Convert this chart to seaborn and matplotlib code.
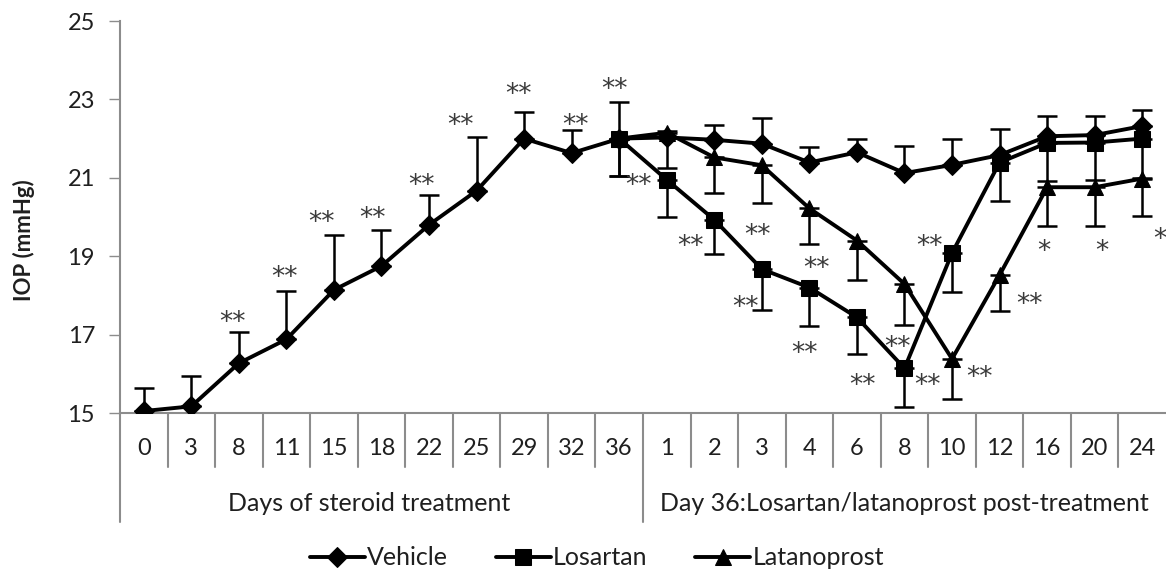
import matplotlib
matplotlib.use('Agg')
import matplotlib.pyplot as plt
import matplotlib.transforms as mtransforms
import numpy as np
import pandas as pd
import seaborn as sns

# x categories (days)
day_labels = ['0', '3', '8', '11', '15', '18', '22', '25', '29', '32', '36',
              '1', '2', '3', '4', '6', '8', '10', '12', '16', '20', '24']

# mean IOP per group
vehicle = [15.05, 15.17, 16.27, 16.88, 18.14, 18.75, 19.80, 20.67, 22.00, 21.63, 22.00,
           22.03, 21.97, 21.87, 21.39, 21.65, 21.12, 21.33, 21.58, 22.06, 22.09, 22.32]
losartan = [22.00, 20.95, 19.93, 18.67, 18.20, 17.44, 16.14, 19.08, 21.39, 21.89, 21.90, 22.00]
latanoprost = [22.00, 22.15, 21.52, 21.32, 20.22, 19.40, 18.29, 16.38, 18.52, 20.76, 20.76, 20.98]

# error bars: vehicle drawn upward, treatment groups drawn downward
vehicle_err = [0.59, 0.78, 0.79, 1.24, 1.41, 0.92, 0.77, 1.36, 0.69, 0.59, 0.93,
               0.17, 0.38, 0.65, 0.39, 0.34, 0.70, 0.67, 0.66, 0.52, 0.48, 0.41]
losartan_err = [0.95, 0.95, 0.87, 1.04, 0.99, 0.94, 0.99, 0.99, 0.98, 0.97, 0.96, 1.00]
latanoprost_err = [0.95, 0.90, 0.91, 0.96, 0.91, 1.00, 1.04, 1.02, 0.92, 0.99, 0.99, 0.95]

group_labels = ['Days of steroid treatment', 'Day 36:Losartan/latanoprost post-treatment']

# significance marks (category position, IOP level, text)
sig_marks = [(1.87, 17.5, '**'), (2.96, 18.65, '**'), (3.73, 20.05, '**'), (4.82, 20.15, '**'),
             (5.85, 21.0, '**'), (6.67, 22.53, '**'), (7.89, 23.32, '**'), (9.08, 22.53, '**'),
             (9.9, 23.44, '**'), (10.4, 21.0, '**'), (11.5, 19.44, '**'), (12.9, 19.72, '**'),
             (12.65, 17.9, '**'), (14.14, 18.88, '**'), (13.89, 16.71, '**'), (15.12, 15.89, '**'),
             (15.86, 16.86, '**'), (16.49, 15.89, '**'), (16.53, 19.44, '**'), (17.58, 16.1, '**'),
             (18.63, 17.98, '**'), (18.92, 19.31, '*'), (20.16, 19.31, '*'), (21.38, 19.62, '*')]

start = day_labels.index('36')
pos_all = np.arange(len(day_labels))
pos_post = pos_all[start:]

df = pd.concat([
    pd.DataFrame({'pos': pos_all, 'IOP': vehicle, 'group': 'Vehicle'}),
    pd.DataFrame({'pos': pos_post, 'IOP': losartan, 'group': 'Losartan'}),
    pd.DataFrame({'pos': pos_post, 'IOP': latanoprost, 'group': 'Latanoprost'}),
], ignore_index=True)

sns.set_style('white')
plt.rcParams['font.family'] = ['Lato', 'DejaVu Sans']

grey = '#8c8c8c'
txt = '#1f1f1f'

fig = plt.figure(figsize=(11.66, 5.71), dpi=100)
ax = fig.add_axes([0.1029, 0.2767, 0.8971, 0.6865])

ax.errorbar(pos_all, vehicle, yerr=[np.zeros(len(vehicle)), vehicle_err], fmt='none',
            ecolor='black', elinewidth=1.8, capsize=7, capthick=1.8, zorder=1)
ax.errorbar(pos_post, losartan, yerr=[losartan_err, np.zeros(len(losartan))], fmt='none',
            ecolor='black', elinewidth=1.8, capsize=7, capthick=1.8, zorder=1)
ax.errorbar(pos_post, latanoprost, yerr=[latanoprost_err, np.zeros(len(latanoprost))], fmt='none',
            ecolor='black', elinewidth=1.8, capsize=7, capthick=1.8, zorder=1)

sizes = {'Vehicle': 10, 'Losartan': 11.5, 'Latanoprost': 11.5}
marks = {'Vehicle': 'D', 'Losartan': 's', 'Latanoprost': '^'}
for name in ['Vehicle', 'Losartan', 'Latanoprost']:
    sub = df[df['group'] == name]
    sns.lineplot(data=sub, x='pos', y='IOP', ax=ax, color='black', linewidth=2.8,
                 marker=marks[name], markersize=sizes[name], markeredgecolor='black',
                 label=name, zorder=3)

# DejaVu asterisks sit high in the line box, shift them down a little
star_trans = mtransforms.offset_copy(ax.transData, fig=fig, y=-6, units='points')
for x, y, s in sig_marks:
    ax.text(x, y, s, ha='center', va='center', fontsize=19, color='#3a3a3a',
            family=['DejaVu Sans'], transform=star_trans)

ax.set_xlim(-0.5, len(day_labels) - 0.5)
ax.set_ylim(15, 25)
ax.set_yticks([15, 17, 19, 21, 23, 25])
ax.set_xticks(pos_all)
ax.set_xticklabels(day_labels)
ax.tick_params(axis='x', length=0, pad=18, labelsize=17, labelcolor=txt)
ax.tick_params(axis='y', length=8, width=1, color=grey, direction='out', pad=10,
               labelsize=17, labelcolor=txt, left=True)
ax.set_xlabel('')
ax.set_ylabel('IOP (mmHg)', fontsize=16, fontweight='bold', color=txt)
ax.yaxis.set_label_coords(-0.081, 0.441)

for side in ['top', 'right']:
    ax.spines[side].set_visible(False)
for side in ['left', 'bottom']:
    ax.spines[side].set_color(grey)
    ax.spines[side].set_linewidth(1.5)

# category separators below the axis
trans = mtransforms.blended_transform_factory(ax.transData, ax.transAxes)
for b in np.arange(0.5, len(day_labels) - 0.5, 1.0):
    depth = -0.278 if b == start + 0.5 else -0.138
    ax.plot([b, b], [0, depth], transform=trans, color=grey, lw=1.5, clip_on=False)
ax.plot([-0.5, -0.5], [0, -0.278], transform=trans, color=grey, lw=1.5, clip_on=False)

ax.text((start - 0.5) / 2, -0.232, group_labels[0], transform=trans,
        ha='center', va='center', fontsize=18, color=txt)
ax.text((start + 0.5 + len(day_labels) - 0.5) / 2, -0.232, group_labels[1], transform=trans,
        ha='center', va='center', fontsize=18, color=txt)

handles, labels = ax.get_legend_handles_labels()
ax.legend(handles, labels, loc='center', bbox_to_anchor=(0.512, 0.023),
          bbox_transform=fig.transFigure, ncol=3, frameon=False, fontsize=18,
          handlelength=2.2, handletextpad=0.1, columnspacing=1.9, labelcolor=txt)

fig.savefig('out.png', dpi=100)
